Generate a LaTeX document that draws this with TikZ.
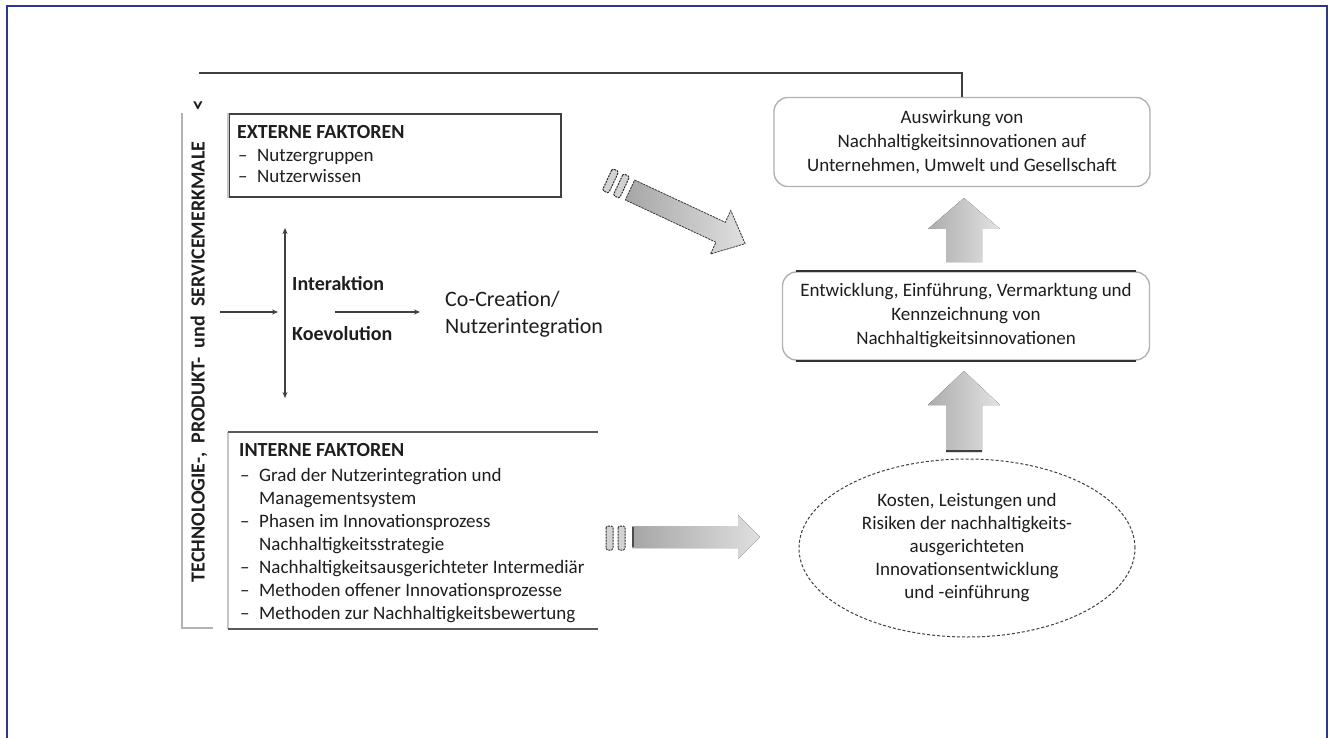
\documentclass[tikz,border=0pt]{standalone}
\usepackage{fontspec}
\setmainfont{Carlito}
\usetikzlibrary{shapes.geometric,arrows.meta}
\definecolor{framec}{RGB}{45,55,140}
\definecolor{txt}{HTML}{1E1E1E}
\newcommand\fsz[2]{\fontsize{#1}{#2}\selectfont}
\newcommand\li{\makebox[19pt][l]{–}}
\newcommand\ci{\hspace*{19pt}}
\tikzset{
  plain/.style={text=txt, inner sep=0},
  rbox/.style={draw=gray!60, line width=1.4, rounded corners=14, align=center,
               font=\fsz{19}{24}, text=txt, inner sep=0},
  conn/.style={draw=black!75, line width=1.6},
  thinarrow/.style={draw=black!75, line width=1.3, -{Stealth[length=6pt,width=5pt]}},
  bigarrow/.style={draw=gray!45!black, line width=0.8, dash pattern=on 2pt off 1.2pt},
  bar/.style={draw=gray!35!black, line width=1, dash pattern=on 2pt off 1pt, fill=gray!35, rounded corners=1.5}
}
\begin{document}
\begin{tikzpicture}[x=1pt,y=-1pt]
\useasboundingbox (0,0) rectangle (1333,738);
\fill[white] (0,0) rectangle (1333,738);
\draw[framec, line width=2] (7,740) -- (7,6) -- (1327,6) -- (1327,740);

% left side column
\draw[gray!60, line width=1.8] (182,113) -- (182,628) -- (213,628);
\node[rotate=90, plain, font=\bfseries\fsz{20}{24}] (side) at (199,362)
  {TECHNOLOGIE-,\ \ PRODUKT-\ \ und\ \ SERVICEMERKMALE};
\node[rotate=90, plain, font=\bfseries\fsz{21}{24}] (lt) at (199,105) {<};

% EXTERNE FAKTOREN
\node[draw=black!75, line width=2, minimum width=332, minimum height=83,
      anchor=north west, inner sep=0] (ext) at (228,113) {};
\draw[gray!45, line width=2] (ext.north west) -- (ext.south west);
\node[plain, anchor=base west, font=\bfseries\fsz{20}{22}] (extt) at (237,139) {EXTERNE FAKTOREN};
\node[plain, anchor=base west, font=\fsz{19}{21}] (extl) at (238,162)
  {\begin{tabular}[t]{@{}l@{}}\li Nutzergruppen\\ \li Nutzerwissen\end{tabular}};

% INTERNE FAKTOREN
\coordinate (inw) at (228,432);
\coordinate (ine) at (598,432);
\coordinate (isw) at (228,629);
\coordinate (ise) at (598,629);
\draw[gray!45, line width=2] (inw) -- (isw);
\draw[black!65, line width=2] (inw) -- (ine);
\draw[black!65, line width=2] (isw) -- (ise);
\node[plain, anchor=base west, font=\bfseries\fsz{20}{22}] (intt) at (239,456) {INTERNE FAKTOREN};
\node[plain, anchor=base west, font=\fsz{19}{23}] (intl) at (240,481)
  {\begin{tabular}[t]{@{}l@{}}
   \li Grad der Nutzerintegration und\\
   \ci Managementsystem\\
   \li Phasen im Innovationsprozess\\
   \ci Nachhaltigkeitsstrategie\\
   \li Nachhaltigkeitsausgerichteter Intermediär\\
   \li Methoden offener Innovationsprozesse\\
   \li Methoden zur Nachhaltigkeitsbewertung
   \end{tabular}};

% middle
\coordinate (va) at (285,228);
\coordinate (vb) at (285,398);
\draw[draw=black!75, line width=1.5, {Stealth[length=6pt,width=5pt]}-{Stealth[length=6pt,width=5pt]}] (va) -- (vb);
\coordinate (la) at (220,312);
\coordinate (lb) at (278,312);
\draw[thinarrow] (la) -- (lb);
\node[plain, anchor=base west, font=\bfseries\fsz{20}{22}] (inter) at (292,290) {Interaktion};
\node[plain, anchor=base west, font=\bfseries\fsz{20}{22}] (koev) at (292,340) {Koevolution};
\coordinate (ra) at (335,312);
\coordinate (rb) at (420,312);
\draw[thinarrow] (ra) -- (rb);
\node[plain, anchor=base west, font=\fsz{22}{27}] (cocr) at (445,306)
  {\begin{tabular}[t]{@{}l@{}}Co-Creation/\\Nutzerintegration\end{tabular}};

% right column
\node[rbox, minimum width=376, minimum height=89] (top) at (962,142)
  {Auswirkung von\\Nachhaltigkeitsinnovationen auf\\Unternehmen, Umwelt und Gesellschaft};
\node[rbox, minimum width=367, minimum height=88] (mid) at (966,316)
  {Entwicklung, Einführung, Vermarktung und\\Kennzeichnung von\\Nachhaltigkeitsinnovationen};
\draw[black!80, line width=2.2] ([xshift=14pt]mid.north west) -- ([xshift=-14pt]mid.north east);
\draw[black!80, line width=2.2] ([xshift=14pt]mid.south west) -- ([xshift=-14pt]mid.south east);
\node[ellipse, draw=gray!50!black, dash pattern=on 3pt off 2pt, line width=1,
      minimum width=336, minimum height=178, align=center, font=\fsz{19}{23},
      text=txt, inner sep=0] (ell) at (967,548)
  {Kosten, Leistungen und\\Risiken der nachhaltigkeits-\\ausgerichteten\\Innovationsentwicklung\\und -einführung};

% feedback line
\coordinate (fb) at (199,73);
\draw[conn] (fb) -- (fb -| top.north) -- (top.north);

% up arrow 1 (mid -> top)
\fill[left color=gray!65, right color=gray!22]
  (946,262) -- (946,229) -- (928,229) -- (964,198) -- (1000,229) -- (982,229) -- (982,262) -- cycle;
% up arrow 2 (ellipse -> mid)
\fill[left color=gray!65, right color=gray!22]
  (946,452) -- (946,405) -- (928,405) -- (964,371) -- (1000,405) -- (982,405) -- (982,452) -- cycle;
\draw[black!75, line width=2.5] (946,451) -- (982,451);

% bottom horizontal arrow
\draw[bar] (606,526) rectangle (613,550);
\draw[bar] (618,526) rectangle (625,550);
\fill[left color=gray!70, right color=gray!25]
  (632,526) -- (738,526) -- (738,515) -- (760,537) -- (738,559) -- (738,548) -- (632,548) -- cycle;
\draw[black!70, line width=2.5] (633,527) -- (633,547);

% diagonal arrow
\begin{scope}[shift={(630,190)}, rotate=-25]
  \draw[bar] (-25,-12) rectangle (-18,12);
  \draw[bar] (-13,-12) rectangle (-6,12);
  \filldraw[bigarrow, left color=gray!70, right color=gray!25]
    (0,-11) -- (100,-11) -- (100,-24) -- (127,0) -- (100,24) -- (100,11) -- (0,11) -- cycle;
\end{scope}
\end{tikzpicture}
\end{document}
